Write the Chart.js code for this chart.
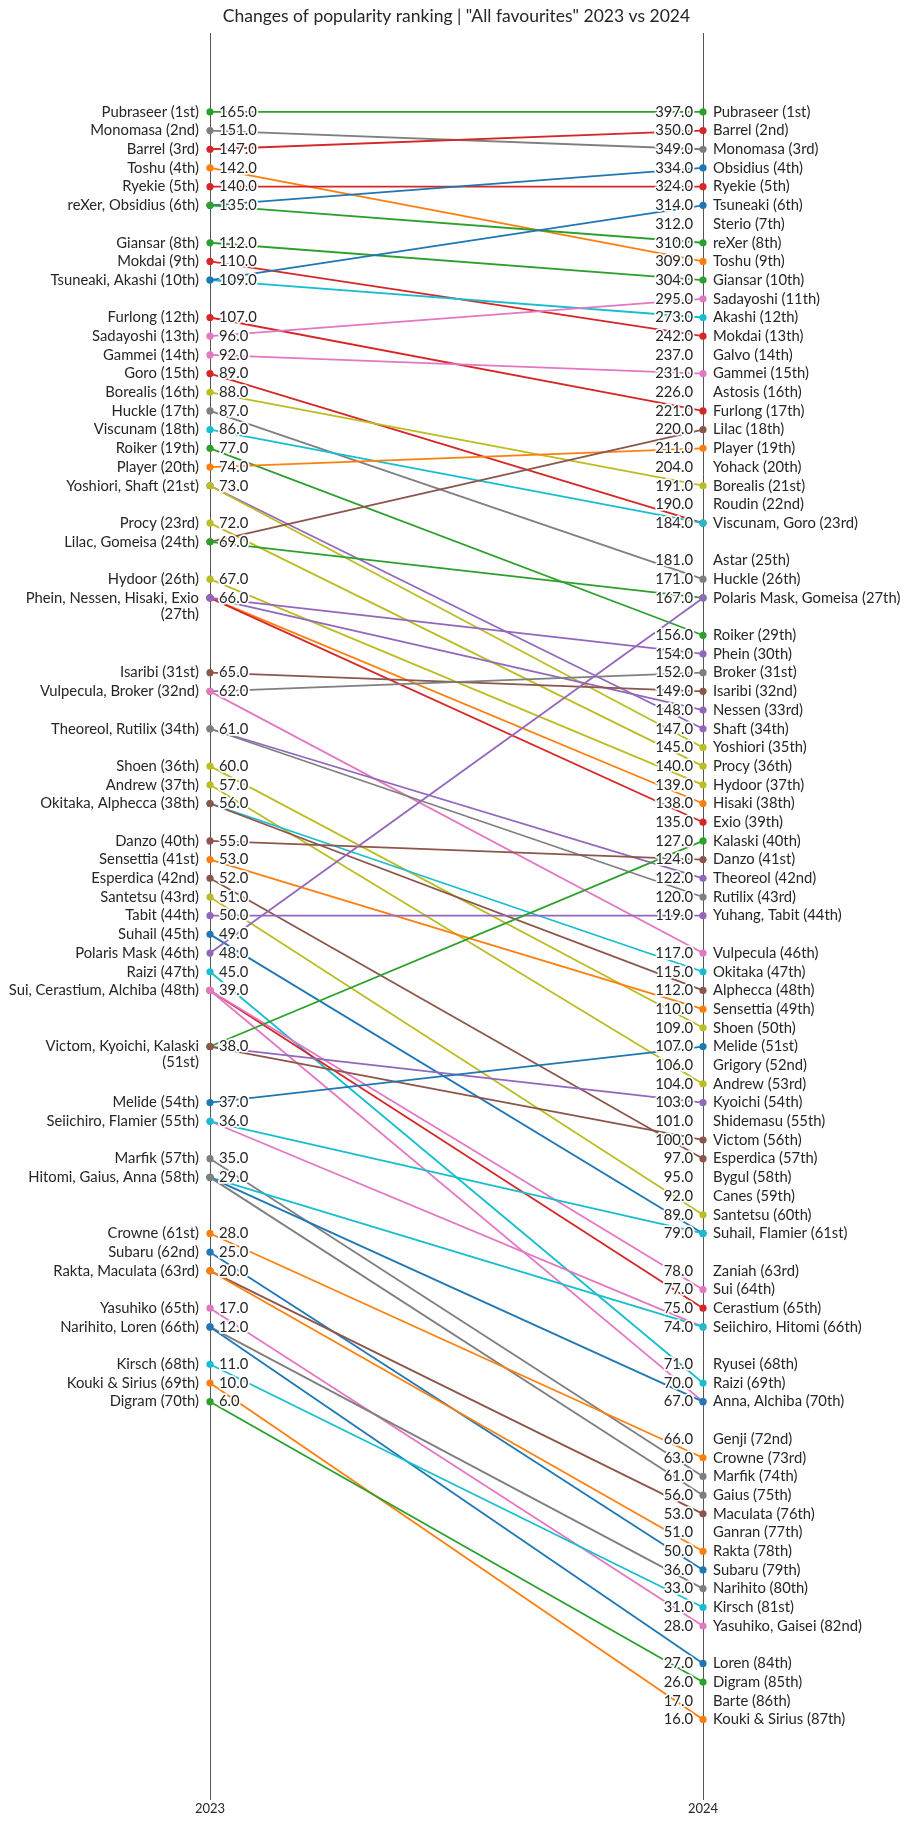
<!DOCTYPE html>
<html>
<head>
<meta charset="utf-8">
<script src="https://cdn.jsdelivr.net/npm/chart.js@4.4.1/dist/chart.umd.min.js"></script>
<style>
  html, body { margin: 0; padding: 0; background: #fff; }
  canvas { display: block; }
</style>
</head>
<body>
<canvas id="chart" width="908" height="1836"></canvas>
<script>
const years = ['2023', '2024'];

// left column (2023)
const ranks2023 = [1,2,3,4,5,6,8,9,10,12,13,14,15,16,17,18,19,20,21,23,24,26,27,31,32,34,36,37,38,40,41,42,43,44,45,46,47,48,51,54,55,57,58,61,62,63,65,66,68,69,70];
const votes2023 = [165,151,147,142,140,135,112,110,109,107,96,92,89,88,87,86,77,74,73,72,69,67,66,65,62,61,60,57,56,55,53,52,51,50,49,48,45,39,38,37,36,35,29,28,25,20,17,12,11,10,6];
const labels2023 = ['Pubraseer (1st)','Monomasa (2nd)','Barrel (3rd)','Toshu (4th)','Ryekie (5th)','reXer, Obsidius (6th)',
  'Giansar (8th)','Mokdai (9th)','Tsuneaki, Akashi (10th)','Furlong (12th)','Sadayoshi (13th)','Gammei (14th)','Goro (15th)',
  'Borealis (16th)','Huckle (17th)','Viscunam (18th)','Roiker (19th)','Player (20th)','Yoshiori, Shaft (21st)','Procy (23rd)',
  'Lilac, Gomeisa (24th)','Hydoor (26th)','Phein, Nessen, Hisaki, Exio\n(27th)','Isaribi (31st)','Vulpecula, Broker (32nd)',
  'Theoreol, Rutilix (34th)','Shoen (36th)','Andrew (37th)','Okitaka, Alphecca (38th)','Danzo (40th)','Sensettia (41st)',
  'Esperdica (42nd)','Santetsu (43rd)','Tabit (44th)','Suhail (45th)','Polaris Mask (46th)','Raizi (47th)',
  'Sui, Cerastium, Alchiba (48th)','Victom, Kyoichi, Kalaski\n(51st)','Melide (54th)','Seiichiro, Flamier (55th)','Marfik (57th)',
  'Hitomi, Gaius, Anna (58th)','Crowne (61st)','Subaru (62nd)','Rakta, Maculata (63rd)','Yasuhiko (65th)','Narihito, Loren (66th)',
  'Kirsch (68th)','Kouki & Sirius (69th)','Digram (70th)'];

// right column (2024)
const ranks2024 = [1,2,3,4,5,6,7,8,9,10,11,12,13,14,15,16,17,18,19,20,21,22,23,25,26,27,29,30,31,32,33,34,35,36,37,38,39,40,41,42,43,44,46,47,48,49,50,51,52,53,54,55,56,57,58,59,60,61,63,64,65,66,68,69,70,72,73,74,75,76,77,78,79,80,81,82,84,85,86,87];
const votes2024 = [397,350,349,334,324,314,312,310,309,304,295,273,242,237,231,226,221,220,211,204,191,190,184,181,171,167,156,154,152,149,148,147,145,140,139,138,135,127,124,122,120,119,117,115,112,110,109,107,106,104,103,101,100,97,95,92,89,79,78,77,75,74,71,70,67,66,63,61,56,53,51,50,36,33,31,28,27,26,17,16];
const labels2024 = ['Pubraseer (1st)','Barrel (2nd)','Monomasa (3rd)','Obsidius (4th)','Ryekie (5th)','Tsuneaki (6th)','Sterio (7th)',
  'reXer (8th)','Toshu (9th)','Giansar (10th)','Sadayoshi (11th)','Akashi (12th)','Mokdai (13th)','Galvo (14th)','Gammei (15th)',
  'Astosis (16th)','Furlong (17th)','Lilac (18th)','Player (19th)','Yohack (20th)','Borealis (21st)','Roudin (22nd)',
  'Viscunam, Goro (23rd)','Astar (25th)','Huckle (26th)','Polaris Mask, Gomeisa (27th)','Roiker (29th)','Phein (30th)',
  'Broker (31st)','Isaribi (32nd)','Nessen (33rd)','Shaft (34th)','Yoshiori (35th)','Procy (36th)','Hydoor (37th)','Hisaki (38th)',
  'Exio (39th)','Kalaski (40th)','Danzo (41st)','Theoreol (42nd)','Rutilix (43rd)','Yuhang, Tabit (44th)','Vulpecula (46th)',
  'Okitaka (47th)','Alphecca (48th)','Sensettia (49th)','Shoen (50th)','Melide (51st)','Grigory (52nd)','Andrew (53rd)',
  'Kyoichi (54th)','Shidemasu (55th)','Victom (56th)','Esperdica (57th)','Bygul (58th)','Canes (59th)','Santetsu (60th)',
  'Suhail, Flamier (61st)','Zaniah (63rd)','Sui (64th)','Cerastium (65th)','Seiichiro, Hitomi (66th)','Ryusei (68th)',
  'Raizi (69th)','Anna, Alchiba (70th)','Genji (72nd)','Crowne (73rd)','Marfik (74th)','Gaius (75th)','Maculata (76th)',
  'Ganran (77th)','Rakta (78th)','Subaru (79th)','Narihito (80th)','Kirsch (81st)','Yasuhiko, Gaisei (82nd)','Loren (84th)',
  'Digram (85th)','Barte (86th)','Kouki & Sirius (87th)'];

// one line per name present in both years (in plot order, later ones on top)
const names = ['Pubraseer','Monomasa','Barrel','Toshu','Ryekie','Obsidius','reXer','Giansar','Mokdai','Akashi','Tsuneaki',
  'Furlong','Sadayoshi','Gammei','Goro','Borealis','Huckle','Viscunam','Roiker','Player','Shaft','Yoshiori','Procy','Lilac',
  'Gomeisa','Hydoor','Hisaki','Exio','Phein','Nessen','Isaribi','Broker','Vulpecula','Theoreol','Rutilix','Shoen','Andrew',
  'Okitaka','Alphecca','Danzo','Sensettia','Esperdica','Santetsu','Tabit','Suhail','Polaris Mask','Raizi','Cerastium','Sui',
  'Alchiba','Kyoichi','Kalaski','Victom','Melide','Seiichiro','Flamier','Marfik','Hitomi','Anna','Gaius','Crowne','Subaru',
  'Maculata','Rakta','Yasuhiko','Narihito','Loren','Kirsch','Kouki & Sirius','Digram'];
const fromRank = [1,2,3,4,5,6,6,8,9,10,10,12,13,14,15,16,17,18,19,20,21,21,23,24,24,26,27,27,27,27,31,32,32,34,34,36,37,38,38,40,41,42,43,44,45,46,47,48,48,48,51,51,51,54,55,55,57,58,58,58,61,62,63,63,65,66,66,68,69,70];
const toRank = [1,3,2,9,5,4,8,10,13,12,6,17,11,15,23,21,26,23,29,19,34,35,36,18,27,37,38,39,30,33,32,31,46,42,43,50,53,47,48,41,49,57,60,44,61,27,69,65,64,70,54,40,56,51,66,61,74,66,70,75,73,79,76,78,82,80,84,81,87,85];
const colorIdx = [2,7,3,1,3,0,2,2,3,9,0,3,6,6,3,8,7,9,2,1,4,8,8,5,2,8,1,3,4,4,5,7,6,4,7,8,8,9,5,5,1,5,8,4,0,4,9,3,6,6,4,2,5,0,6,9,7,9,0,7,1,0,5,1,6,7,0,9,1,2];

const palette = ['#1f77b4','#ff7f0e','#2ca02c','#d62728','#9467bd','#8c564b','#e377c2','#7f7f7f','#bcbd22','#17becf'];
const textColor = '#262626';
const FONT = 'Lato, "Noto Sans", sans-serif';

// chart.js puts dataset 0 on top, so build them back to front
const datasets = names.map((n, i) => ({
  label: n,
  data: [{x: 0, y: fromRank[i]}, {x: 1, y: toRank[i]}],
  borderColor: palette[colorIdx[i]],
  backgroundColor: palette[colorIdx[i]],
  borderWidth: 1.8,
  pointRadius: 3.6,
  pointBorderWidth: 0,
  showLine: true,
  clip: false
})).reverse();

const labelPlugin = {
  id: 'rankLabels',
  afterDatasetsDraw(chart) {
    const ctx = chart.ctx;
    const xs = chart.scales.x, ys = chart.scales.y;
    const xl = xs.getPixelForValue(0), xr = xs.getPixelForValue(1);
    ctx.save();
    ctx.font = '14.8px ' + FONT;
    ctx.textBaseline = 'middle';
    ctx.lineJoin = 'round';
    ctx.lineWidth = 3.5;
    ctx.strokeStyle = '#fff';
    ctx.fillStyle = textColor;
    const put = (txt, x, y, align) => {
      ctx.textAlign = align;
      ctx.strokeText(txt, x, y);
      ctx.fillText(txt, x, y);
    };
    ranks2023.forEach((r, i) => {
      const y = ys.getPixelForValue(r);
      put(votes2023[i].toFixed(1), xl + 9, y, 'left');
      labels2023[i].split('\n').forEach((ln, k) => put(ln, xl - 11, y + k * 16, 'right'));
    });
    ranks2024.forEach((r, i) => {
      const y = ys.getPixelForValue(r);
      put(votes2024[i].toFixed(1), xr - 10, y, 'right');
      put(labels2024[i], xr + 10, y, 'left');
    });
    ctx.restore();
  }
};

new Chart(document.getElementById('chart'), {
  type: 'scatter',
  data: { datasets },
  plugins: [labelPlugin],
  options: {
    responsive: false,
    animation: false,
    devicePixelRatio: 1,
    layout: { padding: { left: 210, right: 205, top: 0, bottom: 18 } },
    plugins: {
      legend: { display: false },
      tooltip: { enabled: false },
      title: {
        display: true,
        text: 'Changes of popularity ranking | "All favourites" 2023 vs 2024',
        color: textColor,
        font: { family: FONT, size: 17.5, weight: 'normal' },
        padding: { top: 6, bottom: 6 }
      }
    },
    scales: {
      x: {
        type: 'linear',
        min: 0,
        max: 1,
        ticks: {
          stepSize: 1,
          color: textColor,
          padding: 1,
          font: { family: FONT, size: 13 },
          callback: v => years[v]
        },
        grid: { color: '#555', lineWidth: 1, drawTicks: false },
        border: { display: false }
      },
      y: {
        display: false,
        reverse: true,
        min: -3.22,
        max: 91.33
      }
    }
  }
});
</script>
</body>
</html>
